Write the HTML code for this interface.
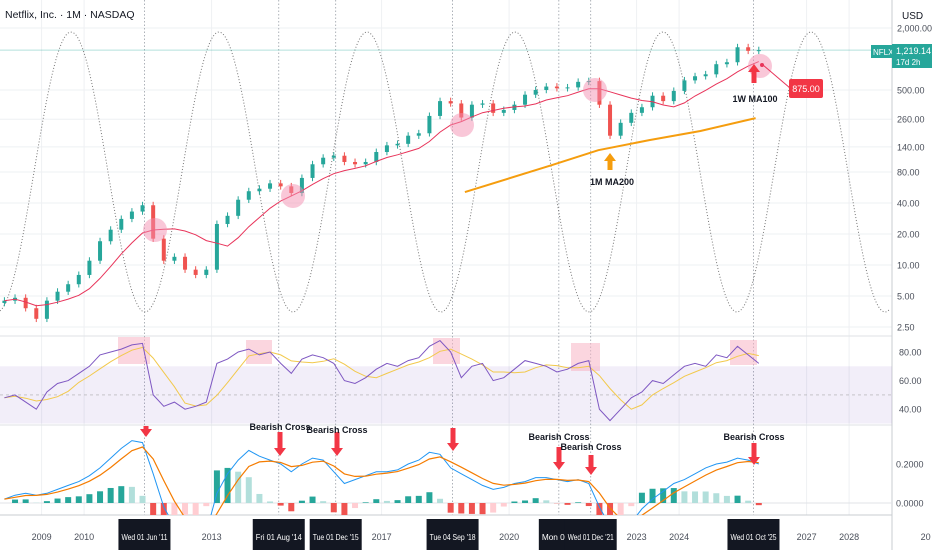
<!DOCTYPE html>
<html><head><meta charset="utf-8"><style>
html,body{margin:0;padding:0;background:#fff;}
svg{display:block;font-family:"Liberation Sans",sans-serif;}
</style></head><body>
<svg id="c" width="932" height="550" viewBox="0 0 932 550" xmlns="http://www.w3.org/2000/svg">
<rect width="932" height="550" fill="#fff"/>
<g id="grid"></g>
<g id="cycle"></g>
<g id="main"></g>
<g id="rsi"></g>
<g id="macd"></g>
<g id="axes"></g>
<g id="ann"></g>
</svg>
<script>
const startYear = 2008.0;
const closes = [4.5,4.8,3.8,3.0, 4.5,5.5,6.5,8, 11,17,22,28, 33,38,18,11, 12,9,8,9, 25,30,43,52, 55,62,58,50, 70,95,110,115, 100,95,100,125, 145,150,180,190, 280,390,370,270, 360,370,300,320, 360,450,500,540, 520,530,600,610, 360,180,240,300, 340,440,390,490, 620,680,710,890, 930,1300,1200,1219];
const ma200Years = [2018.96,2021.0,2022.1,2023.3,2024.5,2025.8];
const ma200Vals = [51,93,130,163,200,267];
const rsiVals = [48,50,45,40, 52,58,60,65, 70,78,80,82, 85,86,50,42, 45,40,42,45, 72,75,80,82, 78,80,72,65, 75,78,76,72, 60,58,62,68, 72,70,74,76, 84,88,80,62, 70,72,60,62, 68,74,72,70, 66,68,72,74, 40,32,40,48, 52,60,58,64, 70,72,70,78, 76,84,78,72];
const macdVals = [0.02,0.04,0.05,0.04, 0.05,0.07,0.09,0.11, 0.14,0.18,0.23,0.28, 0.32,0.31,0.15,-0.02, -0.12,-0.18,-0.2,-0.15, 0.05,0.15,0.22,0.27, 0.24,0.22,0.2,0.16, 0.2,0.23,0.22,0.16, 0.1,0.12,0.14,0.16, 0.16,0.17,0.2,0.22, 0.26,0.25,0.18,0.15, 0.12,0.09,0.07,0.08, 0.1,0.11,0.13,0.13, 0.12,0.11,0.12,0.1, -0.02,-0.12,-0.15,-0.1, -0.03,0.02,0.06,0.1, 0.12,0.15,0.18,0.2, 0.21,0.23,0.22,0.2];
const yearTicks = ["08","2009","2010","2013","2017","2020","2023","2024","2027","2028","20"];
const yearTickPos = [2007.85,2009,2010,2013,2017,2020,2023,2024,2027,2028,2029.8];
const priceTicks = ["2,000.00","500.00","260.00","140.00","80.00","40.00","20.00","10.00","5.00","2.50"];
const priceTickVals = [2000,500,260,140,80,40,20,10,5,2.5];
const rsiTicks = [80,60,40];
const macdTicks = [0.2,0];
const dateLabels = ["Wed 01 Jun '11","Fri 01 Aug '14","Tue 01 Dec '15","Tue 04 Sep '18","Mon 01 J","Wed 01 Dec '21","Wed 01 Oct '25"];
const dateLabelYears = [2011.42,2014.58,2015.92,2018.67,2021.17,2021.92,2025.75];

const NS="http://www.w3.org/2000/svg";
function el(tag,attrs,parent,text){const e=document.createElementNS(NS,tag);for(const k in attrs)e.setAttribute(k,attrs[k]);if(text!==undefined)e.textContent=text;parent.appendChild(e);return e;}
const X=t=>41.6+(t-2009)*42.5;
const Y=p=>90+Math.log2(500/p)*31;
const YR=v=>352+(80-v)*1.43;
const YM=v=>503-v*195;
const tOf=i=>startYear+i*0.25+0.125;
const G=id=>document.getElementById(id);

const grid=G('grid');
yearTickPos.forEach(t=>{const l=el('line',{x1:X(t),x2:X(t),y1:0,y2:515,stroke:'#eef0f3'},grid);});
priceTickVals.forEach(p=>{const l=el('line',{x1:0,x2:892,y1:Y(p),y2:Y(p),stroke:'#eef0f3'},grid);});
el('line',{x1:0,x2:892,y1:336,y2:336,stroke:'#dfe2e6'},grid);
el('line',{x1:0,x2:892,y1:425,y2:425,stroke:'#dfe2e6'},grid);
el('line',{x1:892,x2:892,y1:0,y2:550,stroke:'#c9ccd1'},grid);
el('line',{x1:0,x2:892,y1:515,y2:515,stroke:'#c9ccd1'},grid);
dateLabelYears.forEach(t=>{const l=el('line',{x1:X(t),x2:X(t),y1:0,y2:515,stroke:'#9aa0a8','stroke-dasharray':'1.5,2','stroke-width':0.8},grid);});

let cp='';for(let x=0;x<=890;x+=2){const y=172+140*Math.cos(2*Math.PI*(x-145)/148);cp+=(x?'L':'M')+x+','+y.toFixed(1);}
const cyc=el('path',{d:cp,fill:'none',stroke:'#777','stroke-width':1,'stroke-dasharray':'1,2'},G('cycle'));


el('line',{x1:0,x2:892,y1:Y(1219.14),y2:Y(1219.14),stroke:'#26a69a','stroke-opacity':0.35},G('main'));

const main=G('main');
closes.forEach((c,i)=>{
  const o=i?closes[i-1]:c*0.95;const up=c>=o;
  const x=X(tOf(i));const col=up?'#26a69a':'#ef5350';
  const hi=Math.max(o,c)*1.08,lo=Math.min(o,c)*0.93;
  const w=el('line',{x1:x,x2:x,y1:Y(hi),y2:Y(lo),stroke:col,'stroke-width':1},main);
  
  const t=Math.min(Y(o),Y(c)),b=Math.max(Y(o),Y(c));
  const r=el('rect',{x:x-2,y:t,width:4,height:Math.max(1,b-t),fill:col},main);
  
});
let mp='';closes.forEach((c,i)=>{const s=closes.slice(Math.max(0,i-7),i+1);const m=s.reduce((a,b)=>a+b,0)/s.length;mp+=(i?'L':'M')+X(tOf(i)).toFixed(1)+','+Y(m).toFixed(1);});
const ma=el('path',{d:mp,fill:'none',stroke:'#e8345a','stroke-width':1},main);

let op='';ma200Years.forEach((t,i)=>{op+=(i?'L':'M')+X(t).toFixed(1)+','+Y(ma200Vals[i]).toFixed(1);});
const om=el('path',{d:op,fill:'none',stroke:'#f59d0e','stroke-width':2},main);


const rsi=G('rsi');
const band=el('rect',{x:0,y:YR(70),width:892,height:YR(30)-YR(70),fill:'#7e57c2','fill-opacity':0.1},rsi);

el('line',{x1:0,x2:892,y1:YR(50),y2:YR(50),stroke:'#aaa','stroke-dasharray':'3,3','stroke-width':0.6},rsi);
[[118,150,337,364],[246,272,340,364],[433,460,338,364],[571,600,343,371],[730,757,340,365]].forEach(b=>{const r=el('rect',{x:b[0],y:b[2],width:b[1]-b[0],height:b[3]-b[2],fill:'#f8b4c4','fill-opacity':0.55},rsi);});
let rp='',sp='';rsiVals.forEach((v,i)=>{rp+=(i?'L':'M')+X(tOf(i)).toFixed(1)+','+YR(v).toFixed(1);const s=rsiVals.slice(Math.max(0,i-3),i+1);sp+=(i?'L':'M')+X(tOf(i)).toFixed(1)+','+YR(s.reduce((a,b)=>a+b,0)/s.length).toFixed(1);});
const rs=el('path',{d:sp,fill:'none',stroke:'#f2c94c','stroke-width':1},rsi);
const rl=el('path',{d:rp,fill:'none',stroke:'#7e57c2','stroke-width':1},rsi);

const mg=el('g',{'clip-path':'url(#mclip)'},G('macd'));
const defs=el('defs',{},G('c'));const cl=el('clipPath',{id:'mclip'},defs);el('rect',{x:0,y:426,width:892,height:89},cl);
el('line',{x1:0,x2:892,y1:YM(0),y2:YM(0),stroke:'#e0e3e7'},mg);
const sig=[];macdVals.forEach((v,i)=>{sig.push(i?sig[i-1]*0.55+v*0.45:v);});
macdVals.forEach((v,i)=>{const h=(v-sig[i])*1.6;const ph=i?(macdVals[i-1]-sig[i-1])*1.6:0;
  let col=h>=0?(h>=ph?'#26a69a':'#b2dfdb'):(h<ph?'#ef5350':'#ffcdd2');
  const x=X(tOf(i));const r=el('rect',{x:x-3,y:Math.min(YM(0),YM(h)),width:6,height:Math.abs(YM(h)-YM(0)),fill:col},mg);
  });
let bp='',gp='';macdVals.forEach((v,i)=>{bp+=(i?'L':'M')+X(tOf(i)).toFixed(1)+','+YM(v).toFixed(1);gp+=(i?'L':'M')+X(tOf(i)).toFixed(1)+','+YM(sig[i]).toFixed(1);});
const ml=el('path',{d:bp,fill:'none',stroke:'#2196f3','stroke-width':1},mg);
const sl=el('path',{d:gp,fill:'none',stroke:'#f57c00','stroke-width':1.2},mg);

const ax=G('axes');
el('rect',{x:893,y:0,width:39,height:550,fill:'#fff'},ax);
const usd=el('text',{x:902,y:19,'font-size':10,fill:'#131722'},ax,'USD');
priceTicks.forEach((s,i)=>{const t=el('text',{x:897,y:Y(priceTickVals[i])+3.5,'font-size':9,fill:'#4a4f5a'},ax,s);});
rsiTicks.forEach(v=>{const t=el('text',{x:899,y:YR(v)+3.5,'font-size':9,fill:'#4a4f5a'},ax,v.toFixed(2));});
macdTicks.forEach(v=>{const t=el('text',{x:896,y:YM(v)+3.5,'font-size':9,fill:'#4a4f5a'},ax,v.toFixed(4));});
yearTicks.forEach((s,i)=>{const t=el('text',{x:X(yearTickPos[i]),y:540,'font-size':9,fill:'#4a4f5a','text-anchor':'middle'},ax,s);});
dateLabels.forEach((s,i)=>{const x=X(dateLabelYears[i]);const w=s.length<10?40:52;
  const g=el('g',{},ax);
  el('rect',{x:x-w/2,y:519,width:w,height:31,fill:'#131722'},g);
  el('text',{x:x-w/2+3,y:540,'font-size':8.5,fill:'#fff',textLength:w-6,lengthAdjust:'spacingAndGlyphs'},g,s);});
const pt=el('g',{},ax);
el('rect',{x:871,y:45,width:21,height:13,fill:'#26a69a'},pt);
el('text',{x:873,y:55,'font-size':8,fill:'#fff'},pt,'NFLX');
el('rect',{x:892,y:44,width:40,height:24,fill:'#26a69a'},pt);
el('text',{x:896,y:54,'font-size':9,fill:'#fff'},pt,'1,219.14');
el('text',{x:896,y:65,'font-size':8,fill:'#fff'},pt,'17d 2h');
const title=el('text',{x:5,y:18,'font-size':10.5,fill:'#131722'},ax,'Netflix, Inc. · 1M · NASDAQ');

const an=G('ann');
[[155,230],[293,196],[462,125],[595,90],[760,66]].forEach(c=>{const e=el('circle',{cx:c[0],cy:c[1],r:12,fill:'#f48fb1','fill-opacity':0.5},an);});
el('line',{x1:763,y1:65,x2:790,y2:88,stroke:'#e8345a','stroke-width':1},an);
el('circle',{cx:762,cy:65,r:2,fill:'#e8345a'},an);
const tg=el('g',{},an);
el('rect',{x:789,y:79,width:34,height:19,rx:2,fill:'#f23645'},tg);
el('text',{x:806,y:92,'font-size':9,fill:'#fff','text-anchor':'middle'},tg,'875.00');
function arrow(x,y1,y2,col,up){const g=el('g',{},an);
  if(up){el('polygon',{points:`${x-6},${y1+8} ${x},${y1} ${x+6},${y1+8}`,fill:col},g);el('rect',{x:x-2.5,y:y1+7,width:5,height:y2-y1-7,fill:col},g);}
  else{el('rect',{x:x-2.5,y:y1,width:5,height:y2-y1-7,fill:col},g);el('polygon',{points:`${x-6},${y2-8} ${x},${y2} ${x+6},${y2-8}`,fill:col},g);}}
arrow(610,153,170,'#f59d0e',true);
arrow(754,64,83,'#f23645',true);
const t1=el('text',{x:612,y:185,'font-size':9,'font-weight':'bold',fill:'#131722','text-anchor':'middle'},an,'1M MA200');
const t2=el('text',{x:755,y:102,'font-size':9,'font-weight':'bold',fill:'#131722','text-anchor':'middle'},an,'1W MA100');
const crossX=[146,280,337,453,559,591,754];const crossY=[[426,437],[432,456],[432,456],[428,451],[447,470],[455,475],[443,465]];
const crossLabelY=[0,430,433,0,440,450,440];
crossX.forEach((x,i)=>{arrow(x,crossY[i][0],crossY[i][1],'#f23645',false);
  if(crossLabelY[i]){const t=el('text',{x:x,y:crossLabelY[i],'font-size':9,'font-weight':'bold',fill:'#131722','text-anchor':'middle'},an,'Bearish Cross');}});
</script>
</body></html>
